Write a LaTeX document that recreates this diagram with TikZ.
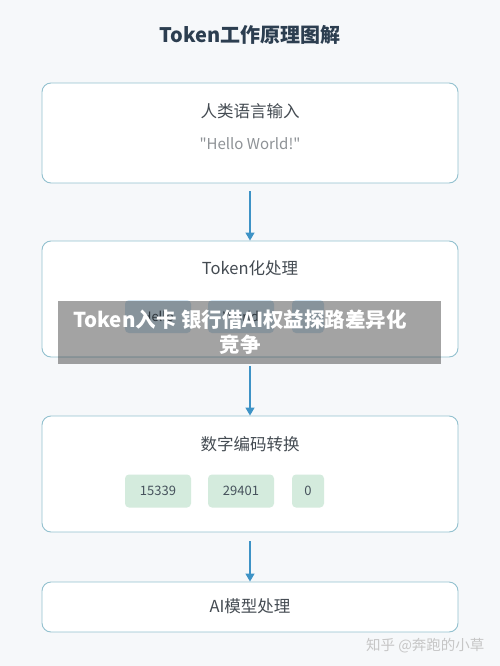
\documentclass[tikz,border=0pt]{standalone}
\usepackage{fontspec}
\setmainfont{Noto Sans CJK SC}
\newfontfamily\plainquote{Noto Sans CJK SC}
\usetikzlibrary{arrows.meta}
\definecolor{bgc}{HTML}{F6F8FA}
\definecolor{boxline}{HTML}{93C1CF}
\definecolor{arrowc}{HTML}{3E93C6}
\definecolor{titlec}{HTML}{2C3E50}
\definecolor{headc}{HTML}{444B52}
\definecolor{subc}{HTML}{8E9296}
\definecolor{greenchip}{HTML}{D4EBDD}
\definecolor{bluechip}{HTML}{D4E6F3}
\definecolor{chiptext}{HTML}{46525C}
\tikzset{
  stagebox/.style={draw=boxline, line width=0.9pt, fill=white, rounded corners=9pt, minimum width=416pt},
  headtext/.style={text=headc, font=\fontsize{16.5}{19}\selectfont},
  chip/.style={rounded corners=4pt, minimum height=33pt, text=chiptext, font=\fontsize{13}{15}\selectfont, inner sep=0pt},
  flow/.style={draw=arrowc, line width=1.3pt, -{Triangle[length=8pt,width=9pt]}},
}
\begin{document}
\begin{tikzpicture}[x=1pt,y=-1pt]
\fill[bgc] (0,0) rectangle (500,666);
\useasboundingbox (0,0) rectangle (500,666);
\node[text=titlec, font=\fontsize{20}{24}\selectfont\bfseries] (title) at (250,35) {Token工作原理图解};
% box 1
\node[stagebox, minimum height=100pt] (b1) at (250,133) {};
\node[headtext] (h1) at (250,111) {人类语言输入};
\node[text=subc, font=\plainquote\fontsize{15}{17}\selectfont] (s1) at (250,144) {"Hello World!"};
% box 2
\node[stagebox, minimum height=116pt] (b2) at (250,299) {};
\node[headtext] (h2) at (250,268) {Token化处理};
\node[chip, fill=bluechip, minimum width=66pt] (t1) at (158,316.5) {Hello};
\node[chip, fill=bluechip, minimum width=66pt] (t2) at (241,316.5) {World};
\node[chip, fill=bluechip, minimum width=32pt] (t3) at (308,316.5) {!};
% box 3
\node[stagebox, minimum height=116pt] (b3) at (250,474) {};
\node[headtext] (h3) at (250,444) {数字编码转换};
\node[chip, fill=greenchip, minimum width=66pt] (c1) at (158,491) {15339};
\node[chip, fill=greenchip, minimum width=66pt] (c2) at (241,491) {29401};
\node[chip, fill=greenchip, minimum width=32pt] (c3) at (308,491) {0};
% box 4
\node[stagebox, minimum height=50pt] (b4) at (250,607) {};
\node[headtext] (h4) at (250,606) {AI模型处理};
% arrows
\coordinate (a1s) at (250,191);
\coordinate (a2s) at (250,366);
\coordinate (a3s) at (250,541);
\draw[flow] (a1s) -- (b2.north);
\draw[flow] (a2s) -- (b3.north);
\draw[flow] (a3s) -- (b4.north);
% watermark
\node[text=gray!45, font=\fontsize{14.5}{16}\selectfont, anchor=east] (wm) at (488,646) {知乎 @奔跑的小草};
% overlay banner
\fill[black, opacity=0.36] (58,301) rectangle (441,364);
\node[text=white, font=\fontsize{20.5}{25}\selectfont\bfseries, align=center] (banner) at (240,332) {Token入卡 银行借AI权益探路差异化\\竞争};
\end{tikzpicture}
\end{document}
